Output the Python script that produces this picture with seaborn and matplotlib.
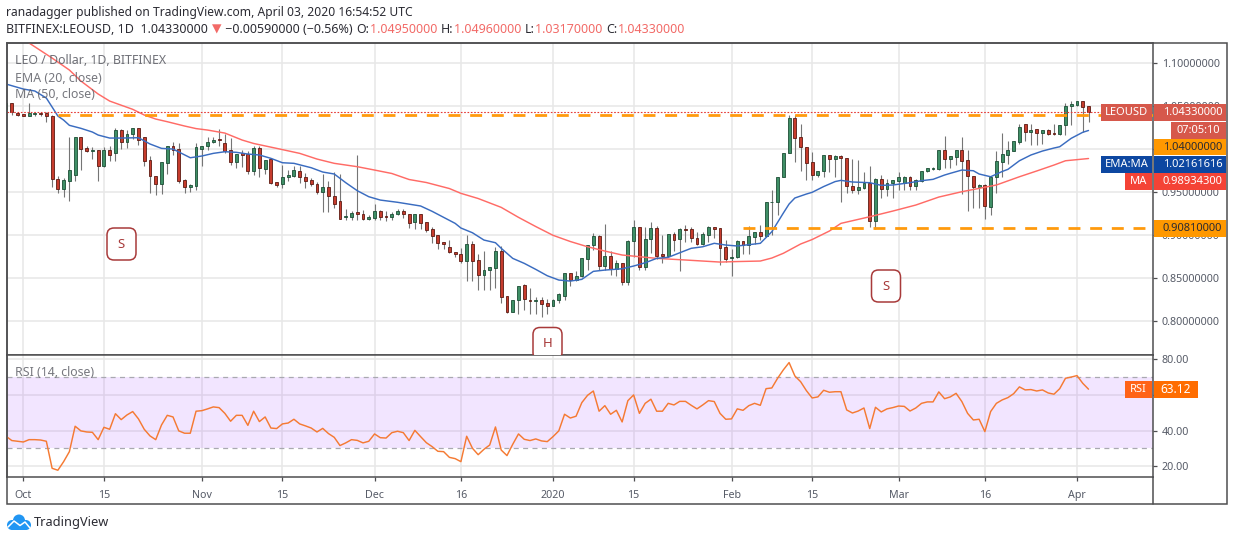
import matplotlib
matplotlib.use("Agg")
import matplotlib.pyplot as plt
import matplotlib.dates as mdates
from matplotlib.patches import Rectangle, FancyBboxPatch, Circle
import numpy as np
import pandas as pd
import seaborn as sns

# LEO/USD daily candles
opens = [1.047,1.053,1.042,1.041,1.039,1.041,1.042,1.042,1.038,0.965,
         0.954,0.963,0.970,1.014,1.001,0.998,0.999,0.980,0.999,0.995,
         1.022,1.008,1.017,1.024,1.014,0.987,0.969,0.959,0.984,1.004,
         1.000,0.964,0.956,0.957,1.000,1.003,1.008,1.012,1.007,0.999,
         0.985,0.995,0.994,0.975,1.001,0.977,0.989,0.962,0.959,0.968,
         0.969,0.975,0.967,0.964,0.959,0.950,0.956,0.945,0.940,0.921,
         0.921,0.927,0.925,0.919,0.920,0.928,0.922,0.921,0.925,0.928,
         0.925,0.915,0.924,0.915,0.907,0.900,0.892,0.886,0.880,0.878,
         0.870,0.890,0.871,0.853,0.859,0.862,0.881,0.829,0.810,0.824,
         0.842,0.825,0.823,0.825,0.821,0.818,0.824,0.829,0.856,0.848,
         0.852,0.872,0.888,0.899,0.864,0.876,0.860,0.868,0.845,0.893,
         0.909,0.863,0.895,0.908,0.878,0.876,0.901,0.895,0.907,0.907,
         0.897,0.890,0.900,0.909,0.908,0.886,0.873,0.874,0.893,0.889,
         0.898,0.904,0.899,0.938,0.939,0.968,0.996,1.036,1.014,1.002,
         0.985,0.970,0.974,0.993,0.988,0.992,0.990,0.957,0.952,0.955,
         0.961,0.916,0.965,0.953,0.961,0.963,0.961,0.967,0.957,0.963,
         0.974,0.977,0.977,0.999,0.988,0.991,0.999,0.987,0.969,0.956,
         0.958,0.933,0.967,0.985,0.993,0.998,1.008,1.029,1.020,1.023,
         1.019,1.022,1.019,1.017,1.028,1.050,1.051,1.056,1.0495]
highs = [1.054,1.053,1.043,1.041,1.053,1.043,1.043,1.043,1.040,0.969,
         0.966,1.014,1.014,1.014,1.004,1.002,0.999,1.002,1.003,1.024,
         1.023,1.022,1.024,1.024,1.014,0.992,0.969,0.985,1.004,1.008,
         1.007,0.965,0.959,1.007,1.003,1.014,1.014,1.023,1.018,1.013,
         0.994,0.999,0.998,1.004,1.004,0.987,0.990,0.962,0.981,0.976,
         0.980,0.980,0.972,0.966,0.962,0.971,0.963,0.973,0.971,0.930,
         0.928,0.993,0.929,0.923,0.936,0.929,0.928,0.927,0.930,0.930,
         0.925,0.924,0.925,0.915,0.909,0.900,0.892,0.894,0.880,0.885,
         0.900,0.893,0.878,0.881,0.863,0.886,0.887,0.829,0.824,0.841,
         0.843,0.838,0.828,0.828,0.826,0.826,0.833,0.856,0.856,0.858,
         0.873,0.888,0.902,0.900,0.913,0.881,0.871,0.868,0.894,0.918,
         0.909,0.909,0.915,0.911,0.900,0.901,0.904,0.908,0.912,0.909,
         0.903,0.904,0.910,0.909,0.908,0.894,0.884,0.894,0.893,0.911,
         0.904,0.912,0.938,0.952,0.968,0.996,1.040,1.040,1.029,1.002,
         0.997,0.974,0.993,0.993,0.993,0.993,0.990,0.989,0.987,0.973,
         0.980,0.966,0.970,0.965,0.964,0.973,0.969,0.969,0.965,0.975,
         0.978,0.979,0.999,1.015,0.992,0.999,1.014,0.999,0.969,0.959,
         0.959,0.967,0.998,1.019,1.009,1.009,1.029,1.029,1.029,1.023,
         1.022,1.023,1.029,1.028,1.054,1.056,1.056,1.056,1.0496]
lows = [1.047,1.040,1.038,1.039,1.038,1.038,1.038,1.031,0.956,0.949,
        0.944,0.940,0.963,0.976,0.997,0.989,0.963,0.979,0.986,0.986,
        1.000,1.001,1.012,1.005,0.980,0.949,0.947,0.948,0.971,0.993,
        0.960,0.949,0.950,0.952,0.980,0.999,1.007,1.003,0.995,0.981,
        0.978,0.979,0.971,0.970,0.968,0.971,0.959,0.956,0.955,0.963,
        0.967,0.961,0.955,0.957,0.948,0.927,0.927,0.931,0.919,0.917,
        0.917,0.917,0.917,0.917,0.918,0.917,0.916,0.917,0.923,0.920,
        0.908,0.907,0.907,0.904,0.891,0.884,0.884,0.879,0.874,0.868,
        0.847,0.847,0.836,0.836,0.836,0.839,0.821,0.809,0.810,0.808,
        0.813,0.808,0.808,0.805,0.808,0.817,0.821,0.824,0.841,0.847,
        0.851,0.859,0.883,0.859,0.859,0.853,0.852,0.842,0.842,0.875,
        0.859,0.859,0.879,0.872,0.868,0.875,0.881,0.858,0.892,0.892,
        0.888,0.889,0.892,0.897,0.865,0.869,0.852,0.873,0.878,0.878,
        0.890,0.894,0.898,0.900,0.923,0.968,0.996,0.985,0.975,0.964,
        0.964,0.967,0.968,0.973,0.968,0.939,0.949,0.949,0.948,0.953,
        0.909,0.907,0.943,0.945,0.943,0.952,0.952,0.952,0.952,0.962,
        0.973,0.976,0.976,0.978,0.978,0.981,0.948,0.928,0.931,0.931,
        0.919,0.923,0.949,0.967,0.983,0.998,1.006,1.009,1.005,1.005,
        1.006,1.016,1.016,1.016,1.016,1.028,1.050,1.020,1.0317]
closes = [1.054,1.043,1.040,1.039,1.042,1.042,1.041,1.038,0.965,0.954,
          0.964,0.976,1.014,1.000,0.998,0.999,0.980,0.999,0.993,1.022,
          1.008,1.018,1.024,1.010,0.986,0.969,0.959,0.985,1.004,0.999,
          0.963,0.956,0.958,1.002,1.003,1.008,1.011,1.010,0.998,0.985,
          0.994,0.993,0.975,1.001,0.978,0.987,0.961,0.958,0.968,0.970,
          0.976,0.967,0.963,0.959,0.950,0.956,0.945,0.936,0.919,0.922,
          0.926,0.924,0.919,0.921,0.928,0.921,0.921,0.925,0.928,0.925,
          0.914,0.924,0.914,0.906,0.899,0.891,0.890,0.880,0.878,0.870,
          0.890,0.870,0.853,0.859,0.863,0.881,0.828,0.810,0.824,0.841,
          0.826,0.823,0.825,0.820,0.818,0.824,0.831,0.856,0.848,0.852,
          0.873,0.888,0.899,0.864,0.876,0.860,0.868,0.845,0.893,0.909,
          0.863,0.895,0.908,0.876,0.876,0.901,0.894,0.907,0.906,0.897,
          0.890,0.901,0.909,0.907,0.885,0.872,0.874,0.893,0.889,0.899,
          0.904,0.899,0.938,0.939,0.968,0.996,1.036,1.013,1.002,0.984,
          0.970,0.974,0.993,0.988,0.992,0.990,0.957,0.952,0.956,0.961,
          0.916,0.965,0.953,0.961,0.964,0.968,0.967,0.957,0.964,0.974,
          0.978,0.978,0.999,0.988,0.992,0.999,0.986,0.969,0.956,0.958,
          0.934,0.967,0.986,0.994,0.999,1.009,1.026,1.020,1.022,1.019,
          1.022,1.017,1.017,1.028,1.050,1.052,1.056,1.049,1.0433]

# moving averages, read at the bars listed in *_bars
ema_bars = [0,3,5,7,8,9,10,11,13,15,16,18,20,23,25,27,29,32,34,36,38,40,42,44,46,48,50,53,55,57,
            59,61,63,65,68,72,74,76,78,79,81,83,85,86,88,90,92,94,96,98,100,102,104,107,109,111,
            113,115,117,119,121,123,125,127,129,131,133,135,136,137,139,140,142,144,145,147,150,
            152,154,157,159,161,163,164,166,168,169,171,173,174,176,178,180,182,183,185,187,188]
ema_vals = [1.0756,1.0698,1.0675,1.0593,1.0489,1.0384,1.0337,1.0276,1.0241,1.0198,1.0163,1.0128,
            1.0128,1.0132,1.0059,1.0008,1.0000,0.9899,0.9919,0.9950,0.9969,0.9962,0.9942,0.9931,
            0.9892,0.9841,0.9834,0.9783,0.9733,0.9710,0.9609,0.9516,0.9446,0.9407,0.9381,0.9338,
            0.9276,0.9206,0.9136,0.9082,0.9027,0.8942,0.8911,0.8846,0.8729,0.8671,0.8601,0.8527,
            0.8477,0.8465,0.8485,0.8578,0.8593,0.8608,0.8640,0.8678,0.8729,0.8741,0.8794,0.8846,
            0.8864,0.8904,0.8884,0.8873,0.8888,0.8904,0.9039,0.9256,0.9361,0.9431,0.9477,0.9497,
            0.9564,0.9622,0.9636,0.9617,0.9609,0.9578,0.9582,0.9609,0.9632,0.9648,0.9698,0.9718,
            0.9756,0.9748,0.9710,0.9678,0.9739,0.9764,0.9864,0.9931,0.9977,1.0012,1.0027,1.0125,
            1.0195,1.0216]
ma_bars = [4,8,11,13,16,18,22,24,26,28,31,33,35,38,41,43,47,51,54,57,61,64,67,70,73,77,79,82,86,89,
           92,95,98,101,104,107,113,118,124,127,131,133,135,138,140,143,145,150,154,158,162,166,172,
           176,179,182,184,188]
ma_vals = [1.1233,1.1058,1.0919,1.0791,1.0640,1.0558,1.0462,1.0396,1.0349,1.0318,1.0268,1.0238,
           1.0221,1.0186,1.0105,1.0065,1.0008,0.9950,0.9884,0.9834,0.9795,0.9756,0.9716,0.9646,
           0.9611,0.9541,0.9485,0.9425,0.9322,0.9206,0.9099,0.8997,0.8925,0.8864,0.8814,0.8768,
           0.8729,0.8710,0.8686,0.8692,0.8698,0.8733,0.8788,0.8896,0.8948,0.9047,0.9136,0.9213,
           0.9279,0.9349,0.9442,0.9504,0.9582,0.9678,0.9745,0.9814,0.9864,0.9890]

rsi_vals = [36.8,34.4,34.0,33.6,34.9,34.9,34.7,34.0,18.9,17.8,22.6,28.2,42.4,39.8,39.2,39.0,34.9,
            41.8,40.7,49.4,46.1,48.7,50.6,46.5,40.7,37.0,34.9,43.1,48.5,47.6,39.8,38.5,38.5,50.8,
            51.1,52.1,53.2,52.8,49.6,45.2,48.5,48.5,42.9,50.8,45.0,47.6,41.4,41.1,43.7,44.2,46.3,
            43.7,42.6,41.4,39.2,41.2,38.3,36.2,31.6,33.1,34.9,34.5,33.1,34.0,38.1,36.0,35.8,38.8,
            39.6,38.8,34.4,40.1,36.6,33.2,31.0,28.4,28.2,25.0,24.3,22.6,36.8,30.1,26.5,29.5,31.9,
            42.0,29.1,26.0,32.3,38.1,35.1,34.4,35.3,34.2,33.8,36.6,39.8,49.1,47.0,48.0,55.6,59.7,
            62.1,50.8,53.9,49.1,51.3,44.8,56.7,59.9,49.6,55.2,57.5,50.8,50.8,55.2,54.3,56.3,56.3,
            54.1,52.1,54.3,56.7,56.2,49.6,46.3,46.5,52.1,51.3,53.9,55.2,54.1,63.4,63.8,69.2,73.9,
            78.0,70.5,67.3,62.3,58.2,58.8,62.5,61.4,61.7,61.7,51.5,49.8,50.9,52.6,41.1,53.0,50.4,
            52.1,52.8,53.7,53.5,50.9,52.6,55.2,56.0,56.0,61.6,57.8,58.8,60.8,56.2,49.6,45.9,46.3,
            39.4,50.6,55.2,57.1,58.4,60.6,64.4,62.7,62.9,62.1,62.7,61.0,60.3,63.4,69.2,69.9,70.7,
            66.4,63.12]

tick_dates = ["2019-10-01","2019-10-15","2019-11-01","2019-11-15","2019-12-01","2019-12-16","2020-01-01",
              "2020-01-15","2020-02-01","2020-02-15","2020-03-01","2020-03-16","2020-04-01"]
tick_labels = ["Oct","15","Nov","15","Dec","16","2020","15","Feb","15","Mar","16","Apr"]
price_ticks = [0.80,0.85,0.90,0.95,1.00,1.05,1.10]
price_labels = ["0.80000000","0.85000000","0.90000000","0.95000000","","1.05000000","1.10000000"]
rsi_ticks = [20,40,60,80]
rsi_labels = ["20.00","40.00","","80.00"]

W, H = 1234, 541
GREY = "#555a66"
FRAME = "#4e4e50"

sns.set_style("white")
plt.rcParams["font.family"] = ["Noto Sans", "DejaVu Sans"]

dates = pd.date_range("2019-09-28", periods=len(closes), freq="D")
xs = mdates.date2num(dates)
df = pd.DataFrame({"x": xs, "o": opens, "h": highs, "l": lows, "c": closes, "rsi": rsi_vals})
up = df[df.c >= df.o]
down = df[df.c < df.o]
ticks_x = mdates.date2num(pd.to_datetime(tick_dates))


def pane(x0, y0, x1, y1):
    return fig.add_axes([x0 / W, 1 - y1 / H, (x1 - x0) / W, (y1 - y0) / H])


fig = plt.figure(figsize=(W / 100, H / 100), dpi=100, facecolor="white")
ax = pane(6.5, 42.5, 1153, 355.3)
ax_rsi = pane(6.5, 355.3, 1153, 477.3)

# price pane
ax.vlines(df.x, df.l, df.h, color="#757575", lw=0.8, zorder=2)
for part, fill, edge in [(up, "#3f8f66", "#1c4d35"), (down, "#c63c2d", "#5c1a12")]:
    ax.bar(part.x, (part.c - part.o).abs(), bottom=part[["o", "c"]].min(axis=1), width=0.5,
           color=fill, edgecolor=edge, linewidth=0.6, zorder=3)
sns.lineplot(x=xs[ma_bars], y=ma_vals, ax=ax, color="#ff6b66", lw=1.05, errorbar=None, zorder=4)
sns.lineplot(x=xs[ema_bars], y=ema_vals, ax=ax, color="#3a6cc0", lw=1.05, errorbar=None, zorder=4)
ax.plot([xs[9], xs[-1] + 12], [1.04, 1.04], color="#ff9a0d", lw=2, dashes=(4.3, 3.5), zorder=4)
ax.plot([xs[128], xs[-1] + 12], [0.9081, 0.9081], color="#ff9a0d", lw=2, dashes=(4.3, 3.5), zorder=4)
ax.axhline(closes[-1], color="#e53935", lw=0.8, dashes=(1.5, 1.5), zorder=4)
ax.set_ylim(0.7602, 1.1239)
ax.set_yticks(price_ticks)
ax.set_yticklabels(price_labels)

# RSI pane
ax_rsi.axhspan(30, 70, color="#9b30ff", alpha=0.12, lw=0, zorder=1)
for level in (30, 70):
    ax_rsi.axhline(level, color="#a9a9b0", lw=0.9, dashes=(4, 3.5), zorder=2)
sns.lineplot(data=df, x="x", y="rsi", ax=ax_rsi, color="#f57a33", lw=1.05, errorbar=None, zorder=3)
ax_rsi.set_ylim(13.86, 82.05)
ax_rsi.set_yticks(rsi_ticks)
ax_rsi.set_yticklabels(rsi_labels)

for a in (ax, ax_rsi):
    a.set_xlim(xs[0] + 0.08, xs[0] + 199.2)
    a.set_xticks(ticks_x)
    a.set_xlabel("")
    a.set_ylabel("")
    a.yaxis.tick_right()
    a.grid(True, color="#e7e7e7", lw=1.1)
    a.set_axisbelow(True)
    a.tick_params(axis="y", right=True, length=3, width=0.9, color=FRAME, pad=3.2,
                  labelsize=7.7, labelcolor=GREY)
    for s in a.spines.values():
        s.set_color(FRAME)
        s.set_linewidth(1.1)
ax.tick_params(axis="x", bottom=False, labelbottom=False)
ax_rsi.set_xticklabels(tick_labels)
ax_rsi.tick_params(axis="x", bottom=True, length=3, width=0.9, color=FRAME, pad=6,
                   labelsize=7.7, labelcolor=GREY)

# overlay in pixel units for the frame, header, tags and logo
ov = fig.add_axes([0, 0, 1, 1], zorder=10)
ov.set_xlim(0, W)
ov.set_ylim(H, 0)
ov.axis("off")
ov.patch.set_alpha(0)
ov.add_patch(Rectangle((6.5, 42.5), 1220.5, 461.8, fill=False, ec=FRAME, lw=1.1))
ov.plot([1153, 1153], [477, 504], color=FRAME, lw=1.1)


def runs(x, y, parts, size):
    # consecutive text pieces on one baseline
    rend = fig.canvas.get_renderer()
    for txt, color, weight in parts:
        t = ov.text(x, y, txt, color=color, fontsize=size, fontweight=weight, va="center", ha="left")
        x = t.get_window_extent(rend).x1 + 0.5


DARK = "#2b2b33"
RED = "#f26a67"
runs(6, 12.5, [("ranadagger", DARK, "bold"),
               (" published on TradingView.com, April 03, 2020 16:54:52 UTC", DARK, "normal")], 8.7)
runs(6, 29.5, [("BITFINEX:LEOUSD, 1D", DARK, "bold"), ("  1.04330000 ", DARK, "normal"), ("▼", RED, "normal"),
               (" −0.00590000 (−0.56%) ", DARK, "normal"),
               ("O:", DARK, "bold"), ("1.04950000 ", RED, "normal"),
               ("H:", DARK, "bold"), ("1.04960000 ", RED, "normal"),
               ("L:", DARK, "bold"), ("1.03170000 ", RED, "normal"),
               ("C:", DARK, "bold"), ("1.04330000", RED, "normal")], 8.95)

LEG = "#5f6068"
ov.text(15, 60, "LEO / Dollar, 1D, BITFINEX", color=LEG, fontsize=8.9, fontweight="bold", va="center", alpha=0.9)
ov.text(15, 78, "EMA (20, close)", color=LEG, fontsize=8.9, va="center", alpha=0.85)
ov.text(15, 95, "MA (50, close)", color=LEG, fontsize=8.9, va="center", alpha=0.85)
ov.text(15, 373, "RSI (14, close)", color=LEG, fontsize=8.9, va="center", alpha=0.85)


def tag(x0, x1, y0, y1, txt, bg, fg="white", weight="bold", ha="center", size=8.0):
    ov.add_patch(Rectangle((x0, y0), x1 - x0, y1 - y0, fc=bg, ec="none"))
    tx = (x0 + x1) / 2 if ha == "center" else x0 + 9
    ov.text(tx, (y0 + y1) / 2, txt, color=fg, fontsize=size, fontweight=weight, ha=ha, va="center")


RED_TAG = "#d6584b"
tag(1101, 1152, 104, 121, "LEOUSD", RED_TAG, size=8.0)
tag(1153.6, 1226, 104, 121, "1.04330000", RED_TAG, ha="left")
tag(1171, 1226, 122.3, 138.7, "07:05:10", RED_TAG)
tag(1153.6, 1226, 139.3, 155.3, "1.04000000", "#ff9800", fg=DARK, weight="normal", ha="left")
tag(1101, 1152, 156, 173, "EMA:MA", "#0d47a1")
tag(1153.6, 1226, 156, 173, "1.02161616", "#0d47a1", ha="left")
tag(1125, 1152, 173.3, 190, "MA", "#f44336")
tag(1153.6, 1226, 173.3, 190, "0.98934300", "#f44336", ha="left")
tag(1153.6, 1226, 220, 236.7, "0.90810000", "#ff9800", fg=DARK, weight="normal", ha="left")
tag(1125, 1152, 381, 398, "RSI", "#ff6318")
tag(1153.6, 1198, 381, 398, "63.12", "#ff6d00", size=8.6)

# S / H / S markers, the H runs off the bottom of the price pane
clip = Rectangle((6.5, 42.5), 1146.5, 312.8, transform=ov.transData)
for label, cx, cy in [("S", 121.5, 244), ("S", 886, 286), ("H", 547.5, 343.5)]:
    box = FancyBboxPatch((cx - 9.5, cy - 11), 19, 22, boxstyle="round,pad=5,rounding_size=7",
                         fc="white", ec="#a83a3a", lw=1.1)
    ov.add_patch(box)
    box.set_clip_path(clip)
    ov.text(cx, cy, label, color="#a83a3a", fontsize=9.5, ha="center", va="center")

# TradingView logo
for cx, cy, r in [(12, 525, 5), (19, 520.5, 6), (26, 525, 5)]:
    ov.add_patch(Circle((cx, cy), r, fc="#2196f3", ec="none"))
ov.add_patch(Rectangle((12, 524), 14, 6, fc="#2196f3", ec="none"))
ov.plot([8, 14, 20, 25, 30], [527, 521, 525.5, 522, 528], color="white", lw=1.1)
ov.text(34, 522.5, "TradingView", color="#2b2b33", fontsize=9.2, va="center")

fig.savefig("out.png", dpi=100)
